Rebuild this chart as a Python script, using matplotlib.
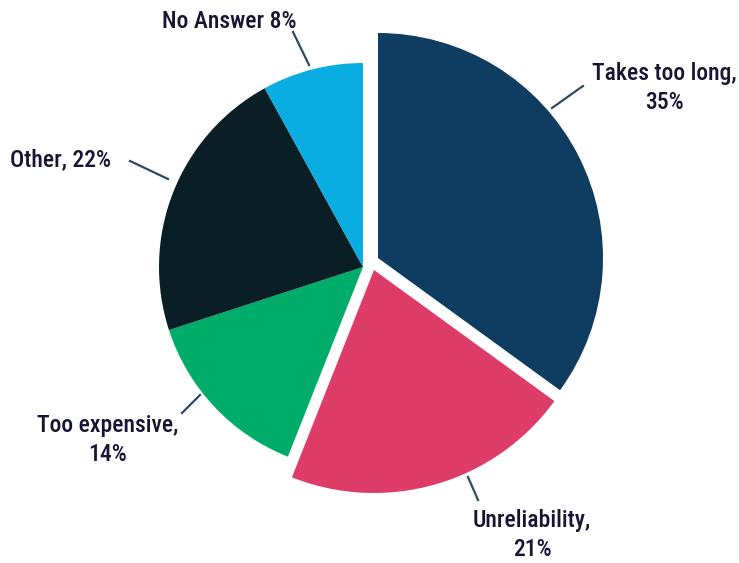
import matplotlib.pyplot as plt
from matplotlib.patches import Wedge
import numpy as np

plt.rcParams['font.family'] = ['Roboto Condensed', 'Liberation Sans Narrow', 'DejaVu Sans']

labels = ['Takes too long,\n35%', 'Unreliability,\n21%', 'Too expensive,\n14%', 'Other, 22%', 'No Answer 8%']
values = [35, 21, 14, 22, 8]
colors = ['#0f3c61', '#dc3c67', '#00ac69', '#0a1f25', '#0aade2']

# per-slice geometry in pixels (offset of apex, radius)
offsets = [(15, 9), (11, -3), (0, 0), (0, 0), (0, 0)]
radii = [225, 223, 204, 204, 204]
center = (363, 563 - 267)

# label text positions and leader lines (pixel coords, y from top)
text_pos = [(664, 88), (532, 535), (108, 440), (60, 160), (229, 22)]
leaders = [((552, 108), (583, 86)), ((468, 477), (478, 500)), ((182, 413), (200, 395)),
           ((130, 161), (168, 179)), ((293, 32), (309, 65))]

fig = plt.figure(figsize=(7.39, 5.63), dpi=100)
ax = fig.add_axes([0, 0, 1, 1])
ax.set_xlim(0, 739)
ax.set_ylim(0, 563)
ax.set_aspect('equal')
ax.axis('off')

angles = 90 - 360 * np.cumsum([0] + values) / sum(values)
for i in range(len(values)):
    cx = center[0] + offsets[i][0]
    cy = center[1] + offsets[i][1]
    ax.add_patch(Wedge((cx, cy), radii[i], angles[i + 1], angles[i], facecolor=colors[i], edgecolor='none'))
    (x0, y0), (x1, y1) = leaders[i]
    ax.plot([x0, x1], [563 - y0, 563 - y1], color='#2c4a68', lw=1.6)
    ax.text(text_pos[i][0], 563 - text_pos[i][1], labels[i], ha='center', va='center',
            fontsize=17, color='#161634', fontweight='medium', linespacing=1.3)

fig.savefig('out.png', dpi=100)
